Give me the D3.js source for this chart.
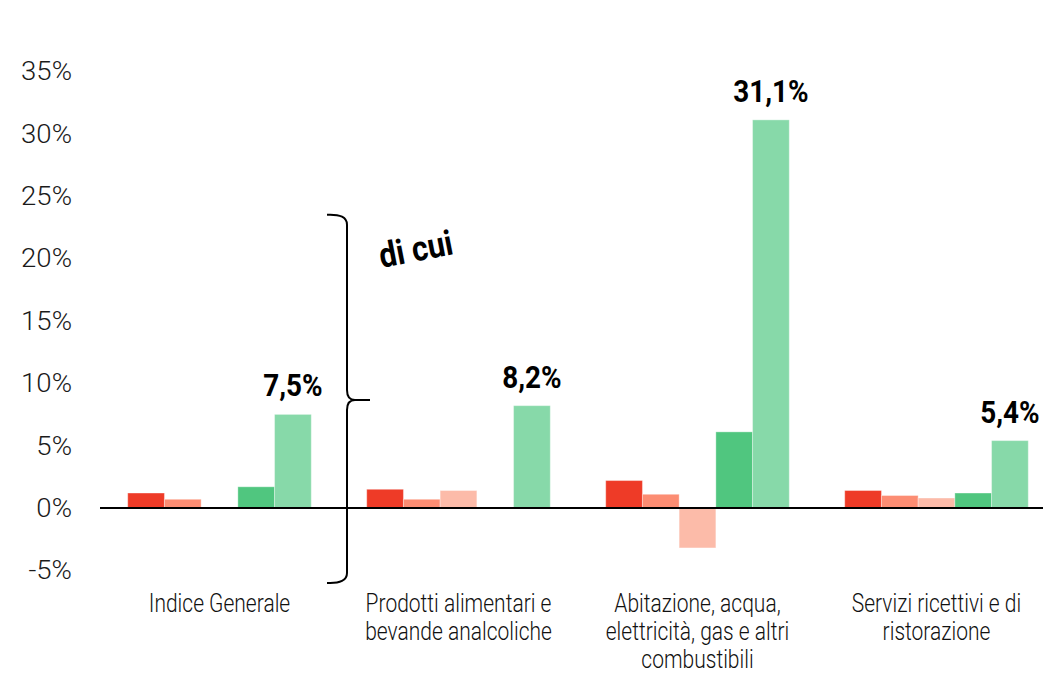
<!DOCTYPE html>
<html>
<head>
<meta charset="utf-8">
<script src="https://cdn.jsdelivr.net/npm/d3@7"></script>
<style>
  html, body { margin: 0; padding: 0; background: #fff; }
  svg { display: block; }
  .tick-label { font-family: "Roboto", sans-serif; font-size: 26px; fill: #1a1a1a; font-weight: 300; }
  .cat-label { font-family: "Roboto", sans-serif; font-size: 25px; fill: #111; font-weight: 300; }
  .val-label { font-family: "Roboto", sans-serif; font-size: 32px; font-weight: bold; fill: #000; }
</style>
</head>
<body>
<svg id="chart" width="1043" height="673"></svg>
<script>
// Categories (multi-line labels)
const categories = [
  ["Indice Generale"],
  ["Prodotti alimentari e", "bevande analcoliche"],
  ["Abitazione, acqua,", "elettricità, gas e altri", "combustibili"],
  ["Servizi ricettivi e di", "ristorazione"]
];

// Five series per category (percent values)
const seriesA = [1.2, 1.5, 2.2, 1.4];
const seriesB = [0.7, 0.7, 1.1, 1.0];
const seriesC = [0.0, 1.4, -3.2, 0.8];
const seriesD = [1.7, 0.0, 6.1, 1.2];
const seriesE = [7.5, 8.2, 31.1, 5.4];

const seriesColors = ["#ee3b27", "#fc8d73", "#fcbba9", "#50c67f", "#87d9a9"];
const yTicks = [-5, 0, 5, 10, 15, 20, 25, 30, 35];
const valueLabels = ["7,5%", "8,2%", "31,1%", "5,4%"];

const series = [seriesA, seriesB, seriesC, seriesD, seriesE];

// horizontal squeeze that gives the text a condensed look
const condensed = 0.84;

const svg = d3.select("#chart");

const y = d3.scaleLinear().domain([-5, 35]).range([570.4, 71.2]);
const x0 = d3.scaleBand()
  .domain(d3.range(categories.length))
  .range([100, 1056])
  .paddingInner(0.232)
  .paddingOuter(0.116);
const x1 = d3.scaleBand()
  .domain(d3.range(series.length))
  .range([0, x0.bandwidth()]);

// y-axis tick labels (no axis line)
const yAxis = d3.axisLeft(y)
  .tickValues(yTicks)
  .tickSize(0)
  .tickPadding(0)
  .tickFormat(d => d + "%");
const yg = svg.append("g").attr("transform", "translate(72,0)").call(yAxis);
yg.select(".domain").remove();
yg.selectAll("text")
  .attr("class", "tick-label")
  .attr("x", 0)
  .attr("dy", "0.33em")
  .attr("transform", "scale(1.06,1)");

// bars
const groups = svg.append("g").selectAll("g")
  .data(categories.map((c, i) => i))
  .join("g")
  .attr("transform", i => `translate(${x0(i)},0)`);

groups.selectAll("rect")
  .data(i => series.map((s, k) => ({ k, v: s[i] })).filter(d => d.v !== 0))
  .join("rect")
  .attr("x", d => x1(d.k))
  .attr("width", x1.bandwidth())
  .attr("y", d => y(Math.max(0, d.v)))
  .attr("height", d => Math.abs(y(d.v) - y(0)))
  .attr("fill", d => seriesColors[d.k])
  .attr("stroke", "rgba(255,255,255,0.35)")
  .attr("stroke-width", 1);

// zero line
svg.append("line")
  .attr("x1", 100).attr("x2", 1043)
  .attr("y1", y(0)).attr("y2", y(0))
  .attr("stroke", "#000").attr("stroke-width", 2.2);

// value labels above the last series
svg.append("g").selectAll("text")
  .data(categories.map((c, i) => i))
  .join("text")
  .attr("class", "val-label")
  .attr("text-anchor", "middle")
  .attr("transform", i =>
    `translate(${x0(i) + x1(4) + x1.bandwidth() / 2},${y(seriesE[i]) - 18}) scale(0.87,1)`)
  .text(i => valueLabels[i]);

// category labels
const cat = svg.append("g").selectAll("text")
  .data(categories.map((c, i) => i))
  .join("text")
  .attr("class", "cat-label")
  .attr("text-anchor", "middle")
  .attr("transform", i => `translate(${x0(i) + x0.bandwidth() / 2},612) scale(${condensed},1)`);
cat.selectAll("tspan")
  .data(i => categories[i])
  .join("tspan")
  .attr("x", 0)
  .attr("dy", (d, j) => j === 0 ? 0 : 28)
  .text(d => d);

// curly brace marking the breakdown ("di cui")
const bx = 347, braceTop = y(23.5), braceMid = y(8.65), braceBot = y(-6.0);
const brace = d3.path();
brace.moveTo(bx - 20, braceTop);
brace.quadraticCurveTo(bx, braceTop - 1, bx, braceTop + 10);
brace.lineTo(bx, braceMid - 10);
brace.quadraticCurveTo(bx, braceMid, bx + 8, braceMid);
brace.lineTo(bx + 23, braceMid);
brace.moveTo(bx + 8, braceMid);
brace.quadraticCurveTo(bx, braceMid, bx, braceMid + 10);
brace.lineTo(bx, braceBot - 10);
brace.quadraticCurveTo(bx, braceBot + 1, bx - 20, braceBot);
svg.append("path")
  .attr("d", brace.toString())
  .attr("fill", "none")
  .attr("stroke", "#000")
  .attr("stroke-width", 2);

svg.append("text")
  .attr("class", "val-label")
  .attr("text-anchor", "middle")
  .attr("transform", "translate(418,261) rotate(-11) scale(0.88,1)")
  .style("font-size", "35px")
  .text("di cui");
</script>
</body>
</html>
